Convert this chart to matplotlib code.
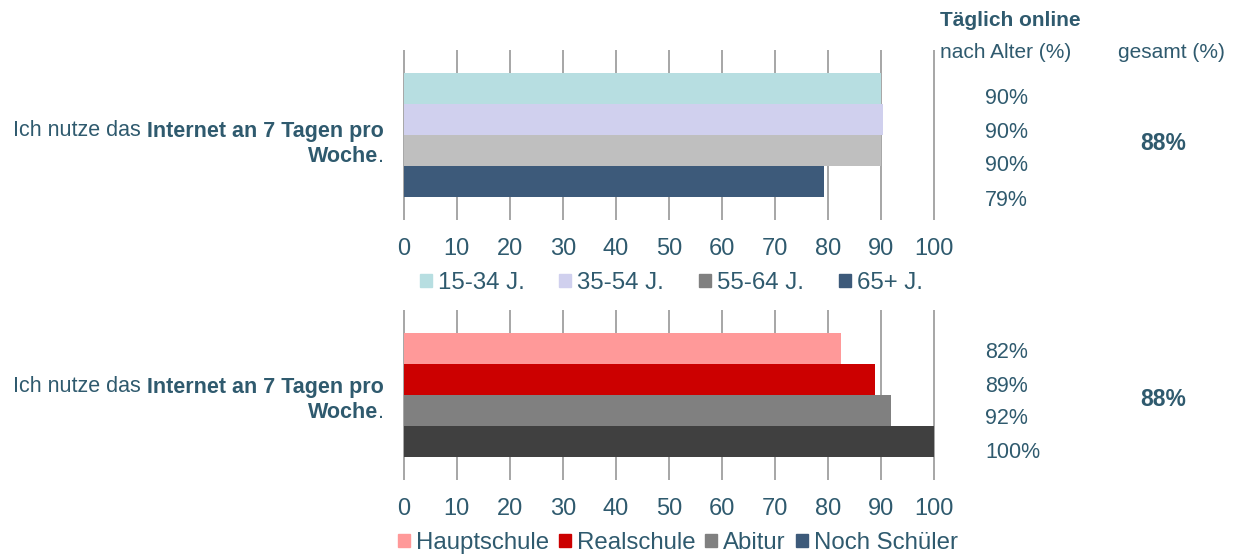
import matplotlib
matplotlib.use('Agg')
import matplotlib.pyplot as plt
from matplotlib.patches import Patch

plt.rcParams['font.family'] = ['Liberation Sans', 'DejaVu Sans']

TXT = '#2F5A6E'
GRID = '#A6A6A6'

# Altersgruppen
age_groups = ['15-34 J.', '35-54 J.', '55-64 J.', '65+ J.']
age_values = [90, 90.4, 90, 79.3]
age_labels = ['90%', '90%', '90%', '79%']
age_bar_colors = ['#B7DEE1', '#D0D0EE', '#BFBFBF', '#3D5A7A']
age_legend_colors = ['#B7DEE1', '#D0D0EE', '#808080', '#3D5A7A']
age_total = '88%'

# Bildungsgruppen
edu_groups = ['Hauptschule', 'Realschule', 'Abitur', 'Noch Schüler']
edu_values = [82.4, 88.8, 91.9, 100]
edu_labels = ['82%', '89%', '92%', '100%']
edu_bar_colors = ['#FF9999', '#CC0000', '#808080', '#404040']
edu_legend_colors = ['#FF9999', '#CC0000', '#808080', '#3D5A7A']
edu_total = '88%'

W, H = 1236, 556
fig = plt.figure(figsize=(W / 100, H / 100), dpi=100)


def fx(px):
    return px / W


def fy(py):
    return 1 - py / H


def bar_panel(top_px, values, colors):
    ax = fig.add_axes([fx(403), fy(top_px + 170), fx(532), 170 / H])
    ax.barh(range(len(values)), values, height=1.0, color=colors, zorder=3)
    ax.set_xlim(-0.15, 100.15)
    ax.set_ylim(4.25, -1.25)
    ax.set_xticks(range(0, 101, 10))
    ax.set_yticks([])
    ax.grid(axis='x', color=GRID, lw=1.4, zorder=0)
    for s in ax.spines.values():
        s.set_visible(False)
    ax.tick_params(axis='x', length=0, pad=13, labelsize=17, labelcolor=TXT)
    return ax


ax1 = bar_panel(50, age_values, age_bar_colors)
ax2 = bar_panel(310, edu_values, edu_bar_colors)

fig.legend(handles=[Patch(color=c, label=l) for c, l in zip(age_legend_colors, age_groups)],
           loc='center', bbox_to_anchor=(fx(671), fy(283)), ncol=4, frameon=False,
           fontsize=17.3, labelcolor=TXT, handlelength=0.5, handleheight=0.5,
           handletextpad=0.25, columnspacing=1.45, borderpad=0)
fig.legend(handles=[Patch(color=c, label=l) for c, l in zip(edu_legend_colors, edu_groups)],
           loc='center', bbox_to_anchor=(fx(678), fy(543)), ncol=4, frameon=False,
           fontsize=17.3, labelcolor=TXT, handlelength=0.5, handleheight=0.5,
           handletextpad=0.25, columnspacing=0.4, borderpad=0)

# Kopfzeile rechts
fig.text(fx(940), fy(20), 'Täglich online', fontsize=15, fontweight='bold',
         color=TXT, va='center')
fig.text(fx(940), fy(52), 'nach Alter (%)', fontsize=15, color=TXT, va='center')
fig.text(fx(1118), fy(52), 'gesamt (%)', fontsize=15, color=TXT, va='center')

for lbl, y in zip(age_labels, [98, 132, 166, 200]):
    fig.text(fx(985), fy(y), lbl, fontsize=15.5, color=TXT, va='center')
fig.text(fx(1163), fy(144), age_total, fontsize=16.5, fontweight='bold',
         color=TXT, va='center', ha='center')

for lbl, y in zip(edu_labels, [352, 386, 419, 453]):
    fig.text(fx(985), fy(y), lbl, fontsize=15.5, color=TXT, va='center')
fig.text(fx(1163), fy(400), edu_total, fontsize=16.5, fontweight='bold',
         color=TXT, va='center', ha='center')

# Aussage links, teilweise fett, rechtsbündig
fig.canvas.draw()
renderer = fig.canvas.get_renderer()


def statement(y1, y2):
    right = fx(384)
    b = fig.text(right, fy(y1), 'Internet an 7 Tagen pro', fontsize=15.5,
                 fontweight='bold', color=TXT, ha='right', va='center')
    x0 = fig.transFigure.inverted().transform(b.get_window_extent(renderer))[0][0]
    fig.text(x0, fy(y1), 'Ich nutze das ', fontsize=15.5, color=TXT,
             ha='right', va='center')
    d = fig.text(right, fy(y2), '.', fontsize=15.5, color=TXT, ha='right', va='center')
    x0 = fig.transFigure.inverted().transform(d.get_window_extent(renderer))[0][0]
    fig.text(x0, fy(y2), 'Woche', fontsize=15.5, fontweight='bold', color=TXT,
             ha='right', va='center')


statement(131, 156)
statement(387, 412)

fig.savefig('out.png', dpi=100)
